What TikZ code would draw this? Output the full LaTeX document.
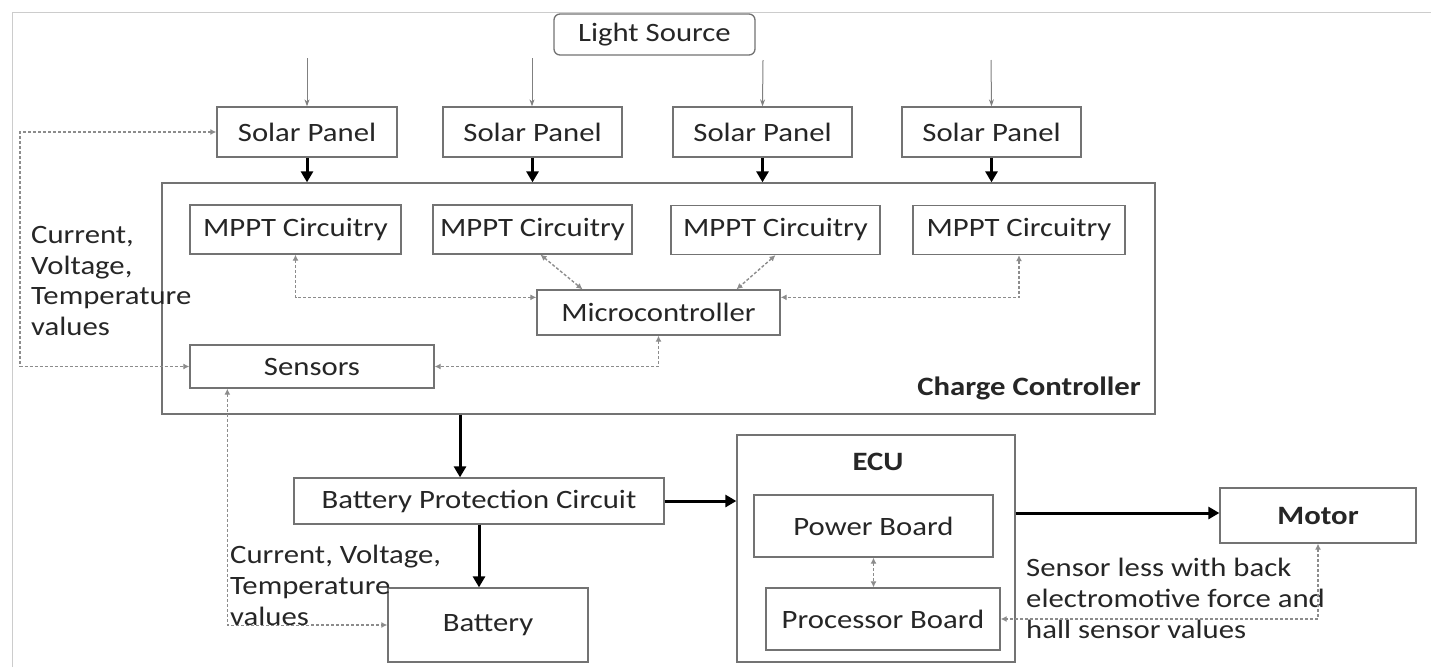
\documentclass[tikz,border=0pt]{standalone}
\usepackage{fontspec}
\setmainfont{Carlito}[FakeStretch=1.16]
\usetikzlibrary{arrows.meta,calc}
\tikzset{
  box/.style={draw=black!55, line width=1.3pt, fill=white, text=black!85, inner sep=0pt, font=\fontsize{26.5}{30}\selectfont},
  lbl/.style={text=black!85, inner sep=0pt, align=left, font=\fontsize{26.5}{30.7}\selectfont},
  lightarrow/.style={draw=black!50, line width=1pt, -{Stealth[length=7pt,width=5pt]}},
  thickarrow/.style={draw=black, line width=3pt, -{Triangle[length=11pt,width=12pt]}},
  dotline/.style={draw=black!45, line width=1.4pt, dash pattern=on 3pt off 2pt, {Latex[length=6pt,width=6pt]}-{Latex[length=6pt,width=6pt]}}
}
\begin{document}
\begin{tikzpicture}[x=1pt,y=-1pt]
\useasboundingbox (0,0) rectangle (1434,667);
\draw[black!20, line width=1pt] (12,667) -- (12,12) -- (1431,12);
% containers
\node[box, minimum width=993pt, minimum height=231pt] (CC) at (658.5,298.5) {};
\node[box, minimum width=278pt, minimum height=227pt] (ECU) at (876,548.5) {};
\node[lbl, font=\fontsize{26.5}{30}\selectfont\bfseries, anchor=east] (cclbl) at (1141,388) {Charge Controller};
\node[lbl, font=\fontsize{26.5}{30}\selectfont\bfseries] (eculbl) at (878,462) {ECU};
% boxes
\node[box, rounded corners=6pt, minimum width=201pt, minimum height=41pt] (LS) at (654.5,34.5) {Light Source};
\node[box, minimum width=180pt, minimum height=50pt] (SP1) at (307,132) {Solar Panel};
\node[box, minimum width=179pt, minimum height=50pt] (SP2) at (532.5,132) {Solar Panel};
\node[box, minimum width=179pt, minimum height=50pt] (SP3) at (762.5,132) {Solar Panel};
\node[box, minimum width=179pt, minimum height=50pt] (SP4) at (991.5,132) {Solar Panel};
\node[box, minimum width=211pt, minimum height=49pt] (M1) at (295.5,229.5) {MPPT Circuitry};
\node[box, minimum width=199pt, minimum height=49pt] (M2) at (532.5,229.5) {MPPT Circuitry};
\node[box, minimum width=209pt, minimum height=49pt] (M3) at (775.5,230) {MPPT Circuitry};
\node[box, minimum width=212pt, minimum height=49pt] (M4) at (1019,230) {MPPT Circuitry};
\node[box, minimum width=243pt, minimum height=45pt] (MC) at (658.5,312.5) {Microcontroller};
\node[box, minimum width=244pt, minimum height=43pt] (SE) at (312,366.5) {Sensors};
\node[box, minimum width=370pt, minimum height=46pt] (BPC) at (479,501) {Battery Protection Circuit};
\node[box, minimum width=200pt, minimum height=74pt] (BAT) at (488,625) {Battery};
\node[box, minimum width=239pt, minimum height=62pt] (PB) at (873.5,526) {Power Board};
\node[box, minimum width=234pt, minimum height=62pt] (PRB) at (883,619) {Processor Board};
\node[box, font=\fontsize{26.5}{30}\selectfont\bfseries, minimum width=196pt, minimum height=55pt] (MOT) at (1318,515.5) {Motor};
% text labels
\node[lbl, anchor=north west] (t1) at (31,226) {Current,\\Voltage,\\Temperature\\values};
\node[lbl, anchor=north west] (t3) at (1026,558) {Sensor less with back\\electromotive force and\\hall sensor values};
% light arrows
\coordinate (l1) at (307,58);
\coordinate (l2) at (532,58);
\coordinate (l3) at (763,60);
\coordinate (l4) at (991,60);
\draw[lightarrow] (l1) -- (SP1.north);
\draw[lightarrow] (l2) -- (l2 |- SP2.north);
\draw[lightarrow] (l3) -- (SP3.north);
\draw[lightarrow] (l4) -- (SP4.north);
% thick arrows panels -> CC
\foreach \p in {SP1,SP2,SP3,SP4}{\draw[thickarrow] (\p.south) -- (\p.south |- CC.north);}
% dotted MPPT <-> MC
\coordinate (mcl) at ([yshift=-8pt]MC.north west);
\coordinate (mcr) at ([yshift=-8pt]MC.north east);
\draw[dotline] (M1.south) |- (mcl);
\draw[dotline] ([xshift=8pt]M2.south) -- ([xshift=-76pt]MC.north);
\draw[dotline] ([xshift=0pt]M3.south) -- ([xshift=78pt]MC.north);
\draw[dotline] (M4.south) |- (mcr);
\draw[dotline] (MC.south) |- (SE.east);
% left loop
\coordinate (lx) at (20,250);
\draw[dotline] (SP1.west) -| (lx) |- (SE.west);
% sensors -> battery
\coordinate (sb) at ([xshift=38pt]SE.south west);
\draw[dotline] (sb) |- (BAT.west);
{\fboxsep=0pt
\node[lbl, anchor=north west] (t2) at (230,545) {Current, Voltage,\\Temperature\\\colorbox{white}{values}};}
% power
\coordinate (a1) at ([xshift=-19pt]BPC.north);
\draw[thickarrow] (a1 |- CC.south) -- (a1);
\draw[thickarrow] (BPC.south) -- (BPC.south |- BAT.north);
\draw[thickarrow] (BPC.east) -- (BPC.east -| ECU.west);
\coordinate (em) at (1100,513);
\draw[thickarrow] (em -| ECU.east) -- (em -| MOT.west);
\draw[dotline] (PB.south) -- (PB.south |- PRB.north);
\draw[dotline] (MOT.south) |- (PRB.east);
\end{tikzpicture}
\end{document}
